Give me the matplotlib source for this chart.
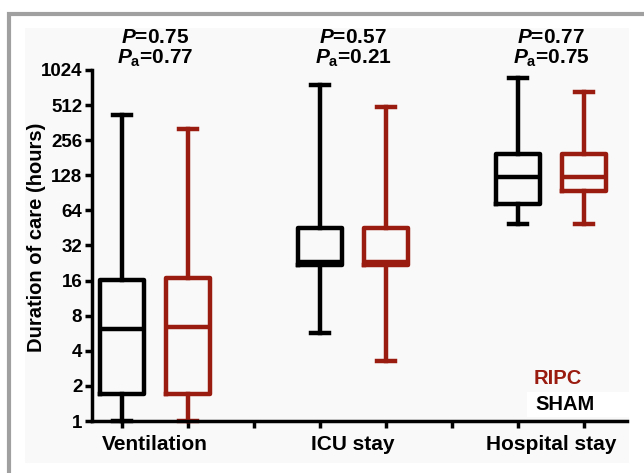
import matplotlib.pyplot as plt
from matplotlib.patches import Rectangle
from matplotlib.ticker import FixedLocator, NullFormatter

plt.rcParams['font.family'] = ['Liberation Sans', 'DejaVu Sans']
plt.rcParams['font.weight'] = 'bold'
plt.rcParams['mathtext.fontset'] = 'custom'
plt.rcParams['mathtext.it'] = 'Liberation Sans:italic:bold'
plt.rcParams['mathtext.rm'] = 'Liberation Sans:bold'

groups = ['Ventilation', 'ICU stay', 'Hospital stay']
p_values = ['0.75', '0.57', '0.77']
pa_values = ['0.77', '0.21', '0.75']

# hours: whisker low, Q1, median, Q3, whisker high
sham_min = [1.0, 5.7, 49]
sham_q1 = [1.7, 21.7, 72.7]
sham_med = [6.15, 23.1, 124]
sham_q3 = [16.2, 45, 195]
sham_max = [421, 760, 874]

ripc_min = [1.0, 3.3, 49]
ripc_q1 = [1.7, 21.7, 94]
ripc_med = [6.4, 23.1, 124]
ripc_q3 = [16.8, 45, 195]
ripc_max = [320, 493, 663]

y_ticks = [1, 2, 4, 8, 16, 32, 64, 128, 256, 512, 1024]

RED = '#9a1b10'

W, H = 644, 473
fig = plt.figure(figsize=(W / 100, H / 100), dpi=100)
fig.patch.set_facecolor('white')


def px_rect(x0, y0, x1, y1, **kw):
    # rectangle given in pixel coords from the top-left corner
    return Rectangle((x0 / W, 1 - y1 / H), (x1 - x0) / W, (y1 - y0) / H,
                     transform=fig.transFigure, **kw)


# outer frame, light panel and the white strip behind the SHAM label
fig.patches.append(px_rect(9, 14, 649, 490, facecolor='white',
                           edgecolor='#a0a0a0', linewidth=3, zorder=-3))
fig.patches.append(px_rect(25, 28, 629, 463, facecolor='#f9f9f9',
                           edgecolor='none', zorder=-2))
fig.patches.append(px_rect(527, 392, 629, 417, facecolor='white',
                           edgecolor='none', zorder=-1))

ax = fig.add_axes([92 / W, 1 - 421 / H, (627 - 92) / W, (421 - 70) / H])
ax.set_zorder(2)
ax.patch.set_alpha(0)


def make_stats(lo, q1, med, q3, hi):
    return [dict(whislo=a, q1=b, med=c, q3=d, whishi=e, fliers=[])
            for a, b, c, d, e in zip(lo, q1, med, q3, hi)]


sham_pos = [1, 4, 7]
ripc_pos = [2, 5, 8]

for stats, pos, color in [(make_stats(sham_min, sham_q1, sham_med, sham_q3, sham_max), sham_pos, 'black'),
                          (make_stats(ripc_min, ripc_q1, ripc_med, ripc_q3, ripc_max), ripc_pos, RED)]:
    lw = 3.2
    ax.bxp(stats, positions=pos, widths=0.66, capwidths=0.28, showfliers=False,
           boxprops=dict(color=color, linewidth=lw, solid_joinstyle='round'),
           whiskerprops=dict(color=color, linewidth=lw),
           capprops=dict(color=color, linewidth=lw),
           medianprops=dict(color=color, linewidth=lw),
           manage_ticks=False)

for artist in ax.lines:
    artist.set_clip_on(False)

ax.set_yscale('log', base=2)
ax.set_ylim(1, 1024)
ax.set_yticks(y_ticks)
ax.set_yticklabels([str(v) for v in y_ticks])
ax.yaxis.set_minor_locator(FixedLocator([]))
ax.set_xlim(0.545, 8.65)

ax.set_xticks([1.5, 4.5, 7.5])
ax.set_xticklabels(groups, fontsize=15, fontweight='bold')
ax.tick_params(axis='x', which='major', length=0, pad=10)
ax.xaxis.set_minor_locator(FixedLocator(range(1, 9)))
ax.xaxis.set_minor_formatter(NullFormatter())
ax.tick_params(axis='x', which='minor', length=5, width=2.5, direction='out')
ax.tick_params(axis='y', length=5, width=2.5, direction='out', labelsize=13.5, pad=2)
for lab in ax.get_yticklabels():
    lab.set_fontweight('bold')

for side in ['top', 'right']:
    ax.spines[side].set_visible(False)
for side in ['left', 'bottom']:
    ax.spines[side].set_linewidth(2.5)

ax.set_ylabel('Duration of care (hours)', fontsize=14.5, fontweight='bold')
ax.yaxis.set_label_coords(-0.086, 0.524)

for i in range(3):
    xc = (sham_pos[i] + ripc_pos[i]) / 2
    ax.text(xc, 1.077, r'$P$=' + p_values[i], transform=ax.get_xaxis_transform(),
            ha='center', va='baseline', fontsize=15, fontweight='bold')
    ax.text(xc, 1.017, r'$P_{\mathrm{a}}$=' + pa_values[i], transform=ax.get_xaxis_transform(),
            ha='center', va='baseline', fontsize=15, fontweight='bold')

ax.text(0.871, 0.1225, 'RIPC', transform=ax.transAxes, ha='center', va='center',
        fontsize=14.5, fontweight='bold', color=RED)
ax.text(0.884, 0.0456, 'SHAM', transform=ax.transAxes, ha='center', va='center',
        fontsize=14.5, fontweight='bold', color='black')

fig.savefig('out.png', dpi=100)
